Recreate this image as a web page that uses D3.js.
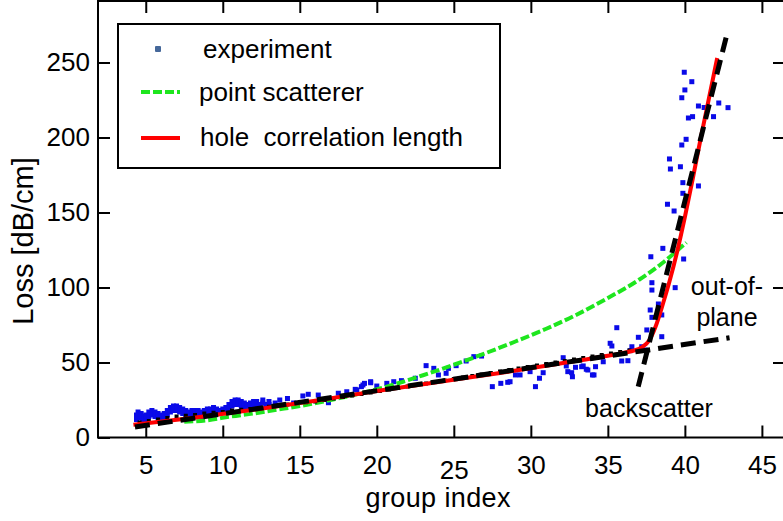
<!DOCTYPE html>
<html>
<head>
<meta charset="utf-8">
<script src="https://cdn.jsdelivr.net/npm/d3@7"></script>
<style>
  body { margin: 0; background: #fff; }
  text { font-family: "Liberation Sans", Arial, sans-serif; fill: #000; }
</style>
</head>
<body>
<svg id="chart" width="783" height="521"></svg>
<script>
// measured values (group index, loss dB/cm)
var xTicks = [5, 10, 15, 20, 25, 30, 35, 40, 45]
var yTicks = [0, 50, 100, 150, 200, 250]

var expBlue = [
  [4.4,12],[4.4,15],[4.5,17],[4.6,13],[4.7,16],[4.8,11],[4.9,14],[5.0,12],[5.0,15],[5.2,14],[5.2,17],
  [5.4,15],[5.4,18],[5.6,14],[5.6,17],[5.8,13],[5.8,16],[6.0,12],[6.0,15],[6.2,13],[6.2,16],
  [6.4,15],[6.4,18],[6.6,17],[6.6,20],[6.8,18],[6.8,21],[7.0,18],[7.0,21],[7.2,17],[7.2,20],
  [7.4,16],[7.4,19],[7.6,15],[7.6,18],[7.8,14],[7.8,17],[8.0,15],[8.0,18],[8.2,16],[8.2,18],
  [8.4,15],[8.4,18],[8.6,14],[8.6,17],[8.8,15],[8.8,18],[9.0,16],[9.0,19],[9.2,17],[9.2,19],
  [9.4,17],[9.4,20],[9.6,16],[9.6,19],[9.8,16],[9.8,18],[10.0,17],[10.0,19],[10.2,17],[10.2,20],
  [10.4,19],[10.4,22],[10.6,21],[10.6,24],[10.8,22],[10.8,25],[11.0,22],[11.0,25],[11.2,21],[11.2,24],
  [11.4,20],[11.4,23],[11.6,20],[11.6,22],[11.8,21],[11.8,23],[12.0,22],[12.0,24],[12.2,21],[12.2,24],
  [12.4,22],[12.6,23],[12.6,25],[12.8,22],[13.0,22],[13.0,24],[13.4,23],[13.7,25],[14.2,26],
  [14.6,23],[15.2,27.7],[15.55,28.8],[16.2,28.3],[16.86,23.2],[17.5,29.5],[18.05,30.5],[18.6,32.1],
  [18.7,31.7],[19.0,33.9],[19.1,35],[19.2,36.1],[19.6,37.2],[19.6,36.5],[20.0,34.3],[20.65,36.1],
  [21.1,37.2],[21.6,37.9],[22.5,39.5],[23.2,47.9],[23.7,46.1],[24.0,41.7],[24.5,42.8],[24.65,46.1],
  [25.15,47.9],[25.8,51],[26.3,53.9],[26.8,54.3],[27.5,33.9],[28.05,36.1],[28.5,36.8],[28.65,37.2],
  [29.0,41.7],[29.3,41.7],[29.95,43.9],[30.3,33.9],[30.56,39.5],[30.8,43.2],[32.1,53.2],[32.3,47.7],
  [32.4,43.9],[32.65,43.2],[32.7,40.5],[32.9,46.8],[33.3,47.2],[33.4,47.7],[33.6,45.5],[33.7,45],
  [34.0,41.7],[34.1,41.7],[34.2,47.2],[34.7,50.5],[35.15,62.8],[35.26,61],[35.58,73.2],[35.9,51],
  [36.3,51.2],[36.45,57.9],[36.56,60.5],[36.98,66.8],[37.2,60.5],[37.42,58.3],[37.53,71.7],
  [37.75,85],[37.79,120.5],[37.86,103.2],[37.86,98.3],[37.86,80.1],[38.28,89],[38.5,81.7],[38.5,67.2],
  [38.57,126.1],[38.87,155.5],[39.0,185.7],[39.06,179],[39.3,151],[39.37,99.9],[39.71,180.5],
  [39.8,226.5],[39.8,195],[39.87,169.9],[39.87,162.8],[39.92,119],[39.96,243.5],[40.0,231.7],
  [40.08,198.8],[40.23,213],[40.45,237.2],[40.5,213.9],[40.88,221],[40.88,167.7],[41.25,220],
  [41.86,213.9],[42.2,223],[42.8,219.9]
]

var expDark = [
  [4.6,10],[5.2,11],[5.8,12],[6.4,13],[7.0,14],[7.6,14.5],[8.2,15],[8.8,16],[9.4,16.5],[10.0,17],
  [10.6,18],[11.2,18.5],[11.8,19],[12.4,19.5],[13.0,20.5],[13.6,21],[14.2,22],[14.8,23],[15.4,23.5],
  [16.0,24],[16.6,25],[17.2,26],[17.8,27],[18.4,28],[19.0,29],[19.6,30],[20.2,31],[20.8,32],
  [21.4,33],[22.0,34],[22.6,35],[23.2,36],[23.8,37],[24.4,38],[25.0,39],[25.6,40],[26.2,41],
  [26.8,42],[27.4,43],[28.0,44],[28.6,45],[29.2,46],[29.8,47],[30.4,48],[31.0,49],[31.6,50],
  [32.2,51],[32.8,52],[33.4,53],[34.0,54],[34.6,55],[35.2,56],[35.8,57],[36.4,58]
]

var pointScatterer = [
  [7.5,10.5],[9,11.5],[10.5,14],[12,16],[13.5,18.5],[15,21],[17,25],[19,29.5],[21,35],[23,41.5],
  [25,48.5],[27,56],[29,64],[31,72.5],[33,82],[35,93],[37,105],[38.5,116],[40.1,130]
]

var holeCorrelation = [
  [4.2,8.5],[8,13],[12,18.5],[16,24.5],[20,31],[24,37],[28,43],[32,49.5],[35,54.5],[36.5,57.5],
  [37.2,60],[37.7,65],[38.1,74],[38.6,90],[39,104],[39.5,124],[40,147],[40.5,172],[41,198],
  [41.5,223],[42.1,253]
]

var backscatterFit = [[4.3,7],[42.9,66.5]]
var outOfPlaneFit = [[36.97,33.9],[42.8,271.7]]

var svg = d3.select("#chart")

var x = d3.scaleLinear().domain([1.9, 46.5]).range([98, 785])
var y = d3.scaleLinear().domain([0, 291]).range([437.5, 1])

var plot = svg.append("g")

var line = d3.line().x(d => x(d[0])).y(d => y(d[1]))

// experiment dots
plot.selectAll(".blue")
    .data(expBlue)
    .enter()
    .append("rect")
    .attr("x", d => x(d[0]) - 2.5)
    .attr("y", d => y(d[1]) - 2.5)
    .attr("width", 5)
    .attr("height", 5)
    .attr("fill", "#0a0ae8")

plot.append("path")
    .datum(pointScatterer)
    .attr("d", line.curve(d3.curveMonotoneX))
    .attr("fill", "none")
    .attr("stroke", "#1ee61e")
    .attr("stroke-width", 4)
    .attr("stroke-dasharray", "9,3")

plot.selectAll(".dark")
    .data(expDark)
    .enter()
    .append("rect")
    .attr("x", d => x(d[0]) - 2)
    .attr("y", d => y(d[1]) - 2)
    .attr("width", 4)
    .attr("height", 4)
    .attr("fill", "#000")

plot.append("path")
    .datum(holeCorrelation)
    .attr("d", line.curve(d3.curveMonotoneX))
    .attr("fill", "none")
    .attr("stroke", "#ff0000")
    .attr("stroke-width", 4)

var straight = d3.line().x(d => x(d[0])).y(d => y(d[1]))
;[backscatterFit, outOfPlaneFit].forEach(function(fit){
  plot.append("path")
      .datum(fit)
      .attr("d", straight)
      .attr("fill", "none")
      .attr("stroke", "#000")
      .attr("stroke-width", 5)
      .attr("stroke-dasharray", "15,8")
})

// frame + axes (ticks point inward)
svg.append("rect")
    .attr("x", 98).attr("y", 1)
    .attr("width", 785 - 98).attr("height", 437.5 - 1)
    .attr("fill", "none")
    .attr("stroke", "#000")
    .attr("stroke-width", 2)

var xAxisgen = d3.axisBottom(x).tickValues(xTicks).tickSizeInner(-12).tickSizeOuter(0).tickPadding(18)
var yAxisgen = d3.axisLeft(y).tickValues(yTicks).tickSizeInner(-12).tickSizeOuter(0).tickPadding(8)

var xAxis = svg.append("g")
    .attr("transform", "translate(0,437.5)")
    .call(xAxisgen)
xAxis.selectAll("text")
    .attr("transform", d => d === 25 ? "translate(0,5)" : null)

var yAxis = svg.append("g")
    .attr("transform", "translate(98,0)")
    .call(yAxisgen)

svg.append("g").attr("transform", "translate(0,1)")
    .call(d3.axisTop(x).tickValues(xTicks).tickSizeInner(-12).tickSizeOuter(0).tickFormat(""))
svg.append("g").attr("transform", "translate(785,0)")
    .call(d3.axisRight(y).tickValues(yTicks.slice(1)).tickSizeInner(-12).tickSizeOuter(0).tickFormat(""))

svg.selectAll(".domain").remove()
svg.selectAll(".tick line").attr("stroke", "#000").attr("stroke-width", 2)
svg.selectAll(".tick text")
    .style("font-family", "'Liberation Sans', Arial, sans-serif")
    .style("font-size", "26px")
    .attr("fill", "#000")

// axis titles
svg.append("text")
    .attr("x", 438).attr("y", 507)
    .attr("text-anchor", "middle")
    .style("font-size", "27px")
    .attr("textLength", 145)
    .text("group index")

svg.append("text")
    .attr("transform", "translate(33,241) rotate(-90)")
    .attr("text-anchor", "middle")
    .style("font-size", "29px")
    .text("Loss [dB/cm]")

// annotations
svg.append("text").attr("x", 727).attr("y", 295).attr("text-anchor", "middle")
    .style("font-size", "25px").text("out-of-")
svg.append("text").attr("x", 727).attr("y", 326).attr("text-anchor", "middle")
    .style("font-size", "25px").text("plane")
svg.append("text").attr("x", 649).attr("y", 417).attr("text-anchor", "middle")
    .style("font-size", "25px").text("backscatter")

// legend
var legend = svg.append("g")
legend.append("rect")
    .attr("x", 118).attr("y", 24)
    .attr("width", 382).attr("height", 144)
    .attr("fill", "#fff")
    .attr("stroke", "#000")
    .attr("stroke-width", 2)

legend.append("rect").attr("x", 155).attr("y", 46).attr("width", 6).attr("height", 6)
    .attr("rx", 1).attr("fill", "#46689a")
legend.append("text").attr("x", 203).attr("y", 58).style("font-size", "26px").text("experiment")

legend.append("line").attr("x1", 141).attr("x2", 180).attr("y1", 92).attr("y2", 92)
    .attr("stroke", "#1ee61e").attr("stroke-width", 4).attr("stroke-dasharray", "9,3")
legend.append("text").attr("x", 199).attr("y", 101).style("font-size", "26px").text("point scatterer")

legend.append("line").attr("x1", 141).attr("x2", 180).attr("y1", 138).attr("y2", 138)
    .attr("stroke", "#ff0000").attr("stroke-width", 4)
legend.append("text").attr("x", 200).attr("y", 146).style("font-size", "26px")
    .attr("xml:space", "preserve").style("white-space", "pre").text("hole  correlation length")
</script>
</body>
</html>
